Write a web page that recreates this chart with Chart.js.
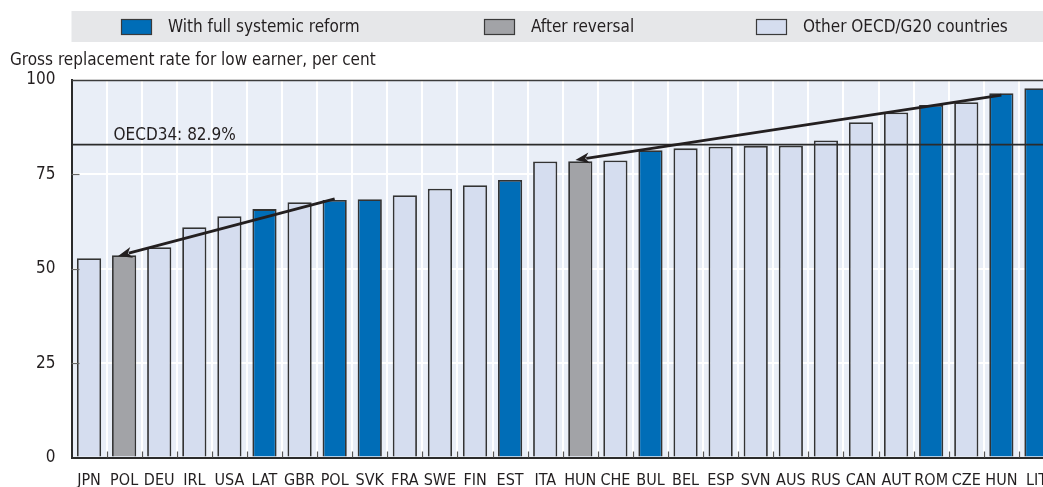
<!DOCTYPE html>
<html>
<head>
<meta charset="utf-8">
<script src="https://cdn.jsdelivr.net/npm/chart.js@4"></script>
<style>
  html, body { margin: 0; padding: 0; background: #ffffff; overflow: hidden; }
  #wrap { position: relative; width: 1056px; height: 487px; }
</style>
</head>
<body>
<div id="wrap"><canvas id="chart"></canvas></div>
<script>
// Countries, ordered by gross replacement rate
const countries = ['JPN','POL','DEU','IRL','USA','LAT','GBR','POL','SVK','FRA','SWE','FIN','EST','ITA','HUN','CHE','BUL','BEL','ESP','SVN','AUS','RUS','CAN','AUT','ROM','CZE','HUN','LIT'];
// Gross replacement rate for a low earner, per cent
const replacementRate = [52.8,53.6,55.7,61.0,63.9,65.8,67.6,68.2,68.4,69.5,71.2,72.1,73.5,78.4,78.5,78.7,81.4,81.9,82.3,82.5,82.6,84.0,88.8,91.4,93.4,94.1,96.5,97.8];
// Reform group of each bar
const reformGroup = ['other','reversal','other','other','other','reform','other','reform','reform','other','other','other','reform','other','reversal','other','reform','other','other','other','other','other','other','other','reform','other','reform','reform'];
const groupLabels = { reform: 'With full systemic reform', reversal: 'After reversal', other: 'Other OECD/G20 countries' };
const yTicks = [0, 25, 50, 75, 100];
// OECD average
const oecdAverage = 82.9;
const oecdLabel = 'OECD34: 82.9%';
// Arrows: [category index, value] from the full reform to the reversed outcome
const arrowFrom = [[7, 68.5], [26, 96.0]];
const arrowTo = [[0.83, 53.4], [13.86, 78.8]];

const groupColors = { reform: '#006db7', reversal: '#a2a3a7', other: '#d5ddef' };
const FONT = '"Liberation Sans Narrow", "DejaVu Sans Condensed", "Arial Narrow", sans-serif';
const TEXT = '#231f20';

const chromePlugin = {
  id: 'chrome',
  beforeDraw(chart) {
    const { ctx, chartArea: a } = chart;
    ctx.save();
    ctx.fillStyle = '#e9eef7';
    ctx.fillRect(a.left, a.top, a.right - a.left, a.bottom - a.top);
    // legend band
    ctx.fillStyle = '#e6e7e9';
    ctx.fillRect(a.left, 11, chart.width - a.left, 31);
    const items = [['reform', 121], ['reversal', 484], ['other', 756]];
    ctx.font = '17px ' + FONT;
    ctx.textBaseline = 'middle';
    items.forEach(([g, x]) => {
      ctx.fillStyle = groupColors[g];
      ctx.fillRect(x, 19, 31, 16);
      ctx.strokeStyle = '#3a3a3a';
      ctx.lineWidth = 1.2;
      ctx.strokeRect(x + 0.5, 19.5, 30, 15);
      ctx.fillStyle = TEXT;
      ctx.fillText(groupLabels[g], x + 47, 27.5);
    });
    // axis title
    ctx.font = '17px ' + FONT;
    ctx.fillText('Gross replacement rate for low earner, per cent', 10, 61);
    ctx.restore();
  },
  afterDatasetsDraw(chart) {
    const { ctx, chartArea: a, scales: { x, y } } = chart;
    ctx.save();
    // top frame line
    ctx.strokeStyle = '#3c3c3c';
    ctx.lineWidth = 1.6;
    ctx.beginPath();
    ctx.moveTo(a.left, a.top + 0.5);
    ctx.lineTo(a.right, a.top + 0.5);
    ctx.stroke();
    // inner tick marks on the value axis
    ctx.strokeStyle = '#666';
    ctx.lineWidth = 1.2;
    yTicks.slice(1, -1).forEach(v => {
      const py = Math.round(y.getPixelForValue(v)) + 0.5;
      ctx.beginPath();
      ctx.moveTo(a.left, py);
      ctx.lineTo(a.left + 8, py);
      ctx.stroke();
    });
    // inner tick marks between categories
    ctx.strokeStyle = '#555';
    for (let i = 1; i < countries.length; i++) {
      const px = Math.round((x.getPixelForValue(i - 1) + x.getPixelForValue(i)) / 2) + 0.5;
      ctx.beginPath();
      ctx.moveTo(px, a.bottom);
      ctx.lineTo(px, a.bottom - 6);
      ctx.stroke();
    }
    // OECD average line
    const ay = y.getPixelForValue(oecdAverage);
    ctx.strokeStyle = '#2b2b2b';
    ctx.lineWidth = 1.8;
    ctx.beginPath();
    ctx.moveTo(a.left, ay);
    ctx.lineTo(a.right, ay);
    ctx.stroke();
    ctx.fillStyle = TEXT;
    ctx.font = '17px ' + FONT;
    ctx.textBaseline = 'alphabetic';
    ctx.fillText(oecdLabel, a.left + 42, ay - 5);
    // arrows
    ctx.strokeStyle = '#231f20';
    ctx.fillStyle = '#231f20';
    ctx.lineWidth = 2.8;
    arrowFrom.forEach((f, k) => {
      const t = arrowTo[k];
      const x0 = x.getPixelForValue(f[0]), y0 = y.getPixelForValue(f[1]);
      const x1 = x.getPixelForValue(t[0]), y1 = y.getPixelForValue(t[1]);
      const ang = Math.atan2(y1 - y0, x1 - x0);
      const len = 14, half = 5.5;
      const bx = x1 - len * Math.cos(ang), by = y1 - len * Math.sin(ang);
      ctx.beginPath();
      ctx.moveTo(x0, y0);
      ctx.lineTo(bx + 3 * Math.cos(ang), by + 3 * Math.sin(ang));
      ctx.stroke();
      ctx.beginPath();
      ctx.moveTo(x1, y1);
      ctx.lineTo(bx - half * Math.sin(ang), by + half * Math.cos(ang));
      ctx.lineTo(bx + 4 * Math.cos(ang), by + 4 * Math.sin(ang));
      ctx.lineTo(bx + half * Math.sin(ang), by - half * Math.cos(ang));
      ctx.closePath();
      ctx.fill();
    });
    ctx.restore();
  }
};

new Chart(document.getElementById('chart'), {
  type: 'bar',
  data: {
    labels: countries,
    datasets: [{
      data: replacementRate,
      backgroundColor: reformGroup.map(g => groupColors[g]),
      borderColor: '#333333',
      borderWidth: 1.8,
      borderSkipped: 'bottom',
      barPercentage: 0.69,
      categoryPercentage: 1
    }]
  },
  options: {
    responsive: true,
    maintainAspectRatio: false,
    animation: false,
    events: [],
    layout: { padding: { top: 80, left: 0, right: 2, bottom: 0 } },
    plugins: { legend: { display: false }, tooltip: { enabled: false } },
    scales: {
      x: {
        grid: { offset: true, color: '#ffffff', lineWidth: 2, drawTicks: false },
        border: { display: true, color: '#2b2b2b', width: 2 },
        ticks: { color: TEXT, font: { family: FONT, size: 16 }, padding: 14, maxRotation: 0, autoSkip: false },
        afterFit(s) { s.height = 29.5; s.paddingLeft = 0; s.paddingRight = 0; }
      },
      y: {
        min: 0, max: 100,
        afterBuildTicks(s) { s.ticks = yTicks.map(v => ({ value: v })); },
        grid: {
          color: c => (c.tick && (c.tick.value === 0 || c.tick.value === 100)) ? 'rgba(0,0,0,0)' : '#ffffff',
          lineWidth: 2, drawTicks: false
        },
        border: { display: true, color: '#2b2b2b', width: 2 },
        ticks: { color: TEXT, font: { family: FONT, size: 17 }, padding: 16 },
        afterFit(s) { s.width = 71.5; }
      }
    }
  },
  plugins: [chromePlugin]
});
</script>
</body>
</html>
